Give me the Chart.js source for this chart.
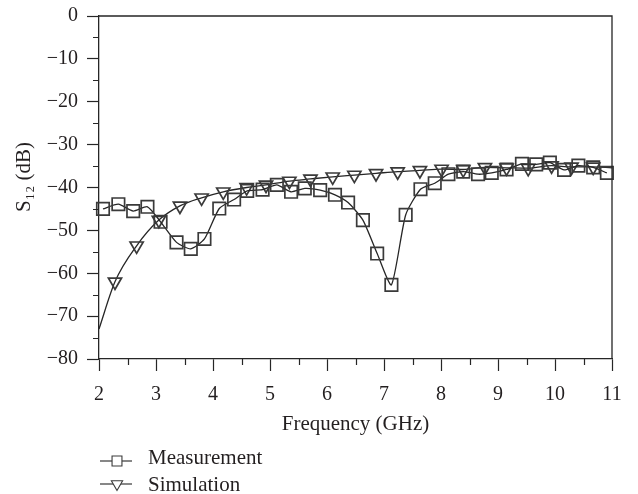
<!DOCTYPE html>
<html>
<head>
<meta charset="utf-8">
<script src="https://cdn.jsdelivr.net/npm/chart.js@4.4.0/dist/chart.umd.min.js"></script>
<style>
    html, body { margin: 0; padding: 0; background: #fff; }
</style>
</head>
<body>
<canvas id="s12Chart" width="638" height="494"></canvas>
<script>
// --- DATA ---
const measFreq = [2.07, 2.34, 2.60, 2.85, 3.08, 3.36, 3.61, 3.85, 4.11, 4.37, 4.60, 4.87,
                  5.12, 5.37, 5.61, 5.88, 6.14, 6.37, 6.63, 6.88, 7.13, 7.38, 7.64, 7.89,
                  8.13, 8.39, 8.65, 8.89, 9.15, 9.42, 9.67, 9.91, 10.16, 10.41, 10.67, 10.91];
const measDb = [-45.0, -43.9, -45.5, -44.5, -48.0, -52.8, -54.3, -52.0, -44.9, -42.8, -40.8, -40.5,
                -39.4, -41.0, -40.2, -40.6, -41.7, -43.5, -47.6, -55.4, -62.7, -46.4, -40.4, -39.0,
                -36.9, -36.3, -36.9, -36.6, -35.8, -34.5, -34.6, -34.2, -35.9, -34.9, -35.3, -36.6];

// first and last simulation points are curve ends without a marker
const simFreq = [2.00, 2.28, 2.66, 3.05, 3.42, 3.80, 4.18, 4.59, 4.93, 5.34, 5.71, 6.10,
                 6.48, 6.86, 7.24, 7.63, 8.01, 8.39, 8.77, 9.15, 9.53, 9.94, 10.29, 10.67, 11.00];
const simDb = [-73.0, -62.0, -53.6, -47.6, -44.3, -42.4, -41.0, -40.0, -39.4, -38.5, -38.0, -37.5,
               -37.1, -36.7, -36.3, -36.0, -35.7, -35.8, -35.3, -35.4, -35.5, -34.9, -35.2, -35.2, -35.4];

const xMajorTicks = [2, 3, 4, 5, 6, 7, 8, 9, 10, 11];
const yMajorTicks = [0, -10, -20, -30, -40, -50, -60, -70, -80];

const seriesLabels = ['Measurement', 'Simulation'];

// --- STYLE ---
const FONT = "'Liberation Serif', 'DejaVu Serif', serif";
const INK = '#262626';
const TEXT = '#231f20';
const MAJOR_TICK = 12;
const MINOR_TICK = 6;

function fmtMinus(v) {
    return v < 0 ? '\u2212' + Math.abs(v) : String(v);
}

// minor ticks + top/right frame
const frameAndMinorTicks = {
    id: 'frameAndMinorTicks',
    afterDraw(chart) {
        const { ctx, chartArea: a, scales } = chart;
        ctx.save();
        ctx.strokeStyle = INK;
        ctx.lineWidth = 1.3;
        ctx.beginPath();
        ctx.moveTo(a.left, a.top);
        ctx.lineTo(a.right, a.top);
        ctx.lineTo(a.right, a.bottom);
        ctx.stroke();

        ctx.lineWidth = 1.2;
        ctx.beginPath();
        scales.x.ticks.forEach(t => {
            if (!xMajorTicks.includes(t.value)) {
                const px = Math.round(scales.x.getPixelForValue(t.value)) + 0.5;
                ctx.moveTo(px, a.bottom);
                ctx.lineTo(px, a.bottom + MINOR_TICK);
            }
        });
        scales.y.ticks.forEach(t => {
            if (!yMajorTicks.includes(t.value)) {
                const py = Math.round(scales.y.getPixelForValue(t.value)) + 0.5;
                ctx.moveTo(a.left, py);
                ctx.lineTo(a.left - MINOR_TICK, py);
            }
        });
        ctx.stroke();
        ctx.restore();
    }
};

// legend stacked under the x axis title: line - marker - line, then text
const stackedLegend = {
    id: 'stackedLegend',
    afterDraw(chart) {
        const { ctx } = chart;
        const symbolRows = [461, 484];
        const textRows = [458, 485];
        ctx.save();
        chart.data.datasets.forEach((ds, i) => {
            const y = symbolRows[i];
            ctx.strokeStyle = ds.borderColor;
            ctx.lineWidth = 1.1;
            ctx.beginPath();
            ctx.moveTo(100, y);
            ctx.lineTo(132, y);
            ctx.stroke();
            ctx.strokeStyle = ds.pointBorderColor;
            ctx.fillStyle = '#fff';
            Chart.helpers.drawPoint(ctx, {
                pointStyle: ds.pointStyle,
                rotation: ds.pointRotation || 0,
                radius: ds.legendRadius,
                borderWidth: 1.3
            }, 117, y);
            ctx.fillStyle = TEXT;
            ctx.font = '21px ' + FONT;
            ctx.textBaseline = 'middle';
            ctx.fillText(ds.label, 148, textRows[i]);
        });
        ctx.restore();
    }
};

const ctx = document.getElementById('s12Chart').getContext('2d');

new Chart(ctx, {
    type: 'line',
    data: {
        datasets: [{
            label: seriesLabels[0],
            data: measFreq.map((f, i) => ({ x: f, y: measDb[i] })),
            borderColor: INK,
            borderWidth: 1.3,
            tension: 0.2,
            pointStyle: 'rect',
            pointRadius: 8.8,
            legendRadius: 7,
            pointBorderColor: '#3a3a3a',
            pointBackgroundColor: 'rgba(0,0,0,0)',
            pointBorderWidth: 1.7,
            clip: false
        }, {
            label: seriesLabels[1],
            data: simFreq.map((f, i) => ({ x: f, y: simDb[i] })),
            borderColor: INK,
            borderWidth: 1.3,
            cubicInterpolationMode: 'monotone',
            pointStyle: 'triangle',
            pointRotation: 180,
            pointRadius: c => (c.dataIndex === 0 || c.dataIndex === simFreq.length - 1) ? 0 : 7.6,
            legendRadius: 6.5,
            pointBorderColor: '#3a3a3a',
            pointBackgroundColor: 'rgba(0,0,0,0)',
            pointBorderWidth: 1.7,
            clip: false
        }]
    },
    options: {
        responsive: false,
        animation: false,
        devicePixelRatio: 1,
        layout: { padding: { left: 0, top: 16, right: 26, bottom: 55 } },
        plugins: { legend: { display: false }, tooltip: { enabled: false } },
        scales: {
            x: {
                type: 'linear',
                min: 2, max: 11,
                afterFit: s => { s.height = 80; s.paddingLeft = 0; s.paddingRight = 0; },
                border: { display: true, color: INK, width: 1.3 },
                grid: {
                    drawOnChartArea: false,
                    tickLength: MAJOR_TICK,
                    tickWidth: 1.2,
                    tickColor: c => xMajorTicks.includes(c.tick.value) ? INK : 'rgba(0,0,0,0)'
                },
                ticks: {
                    stepSize: 0.5,
                    autoSkip: false,
                    maxRotation: 0,
                    padding: 12,
                    color: TEXT,
                    font: { family: FONT, size: 20 },
                    callback: v => xMajorTicks.includes(v) ? String(v) : ''
                },
                title: {
                    display: true,
                    text: 'Frequency (GHz)',
                    color: TEXT,
                    font: { family: FONT, size: 21 },
                    padding: { top: 0, bottom: 2 }
                }
            },
            y: {
                type: 'linear',
                min: -80, max: 0,
                afterFit: s => { s.width = 99; s.paddingTop = 0; s.paddingBottom = 0; },
                border: { display: true, color: INK, width: 1.3 },
                grid: {
                    drawOnChartArea: false,
                    tickLength: MAJOR_TICK,
                    tickWidth: 1.2,
                    tickColor: c => yMajorTicks.includes(c.tick.value) ? INK : 'rgba(0,0,0,0)'
                },
                ticks: {
                    stepSize: 5,
                    autoSkip: false,
                    padding: 9,
                    color: TEXT,
                    font: { family: FONT, size: 20 },
                    callback: v => yMajorTicks.includes(v) ? fmtMinus(v) : ''
                },
                title: {
                    display: true,
                    // leading spaces nudge the rotated title upward like the reference
                    text: '    S\u2081\u2082 (dB)',
                    color: TEXT,
                    font: { family: FONT, size: 21 },
                    padding: { top: 12, bottom: 0 }
                }
            }
        }
    },
    plugins: [frameAndMinorTicks, stackedLegend]
});
</script>
</body>
</html>
